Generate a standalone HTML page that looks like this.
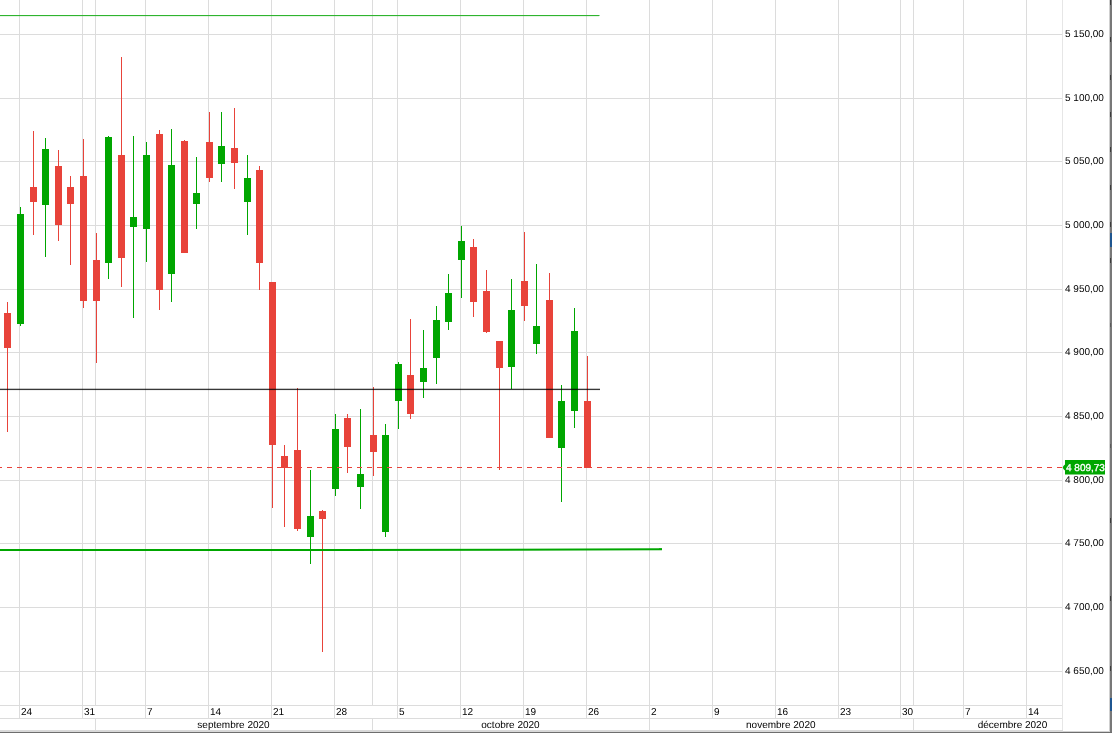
<!DOCTYPE html><html><head><meta charset="utf-8"><title>Chart</title><style>html,body{margin:0;padding:0;background:#fff;overflow:hidden}svg{display:block;will-change:transform}text{font-family:"Liberation Sans",Arial,sans-serif;font-size:10px;fill:#000;text-rendering:geometricPrecision}</style></head><body>
<svg width="1112" height="733" viewBox="0 0 1112 733">
<rect x="0" y="0" width="1112" height="733" fill="#fff"/>
<g fill="#dcdcdc" shape-rendering="crispEdges"><rect x="0" y="34" width="1062" height="1"/><rect x="0" y="98" width="1062" height="1"/><rect x="0" y="161" width="1062" height="1"/><rect x="0" y="225" width="1062" height="1"/><rect x="0" y="289" width="1062" height="1"/><rect x="0" y="352" width="1062" height="1"/><rect x="0" y="416" width="1062" height="1"/><rect x="0" y="480" width="1062" height="1"/><rect x="0" y="543" width="1062" height="1"/><rect x="0" y="607" width="1062" height="1"/><rect x="0" y="671" width="1062" height="1"/><rect x="19" y="0" width="1" height="718"/><rect x="82" y="0" width="1" height="718"/><rect x="145" y="0" width="1" height="718"/><rect x="208" y="0" width="1" height="718"/><rect x="271" y="0" width="1" height="718"/><rect x="334" y="0" width="1" height="718"/><rect x="397" y="0" width="1" height="718"/><rect x="460" y="0" width="1" height="718"/><rect x="523" y="0" width="1" height="718"/><rect x="586" y="0" width="1" height="718"/><rect x="649" y="0" width="1" height="718"/><rect x="712" y="0" width="1" height="718"/><rect x="775" y="0" width="1" height="718"/><rect x="838" y="0" width="1" height="718"/><rect x="900" y="0" width="1" height="718"/><rect x="963" y="0" width="1" height="718"/><rect x="1026" y="0" width="1" height="718"/><rect x="95" y="0" width="1" height="705"/><rect x="95" y="718" width="1" height="12"/><rect x="372" y="0" width="1" height="705"/><rect x="372" y="718" width="1" height="12"/><rect x="649" y="0" width="1" height="705"/><rect x="649" y="718" width="1" height="12"/><rect x="913" y="0" width="1" height="705"/><rect x="913" y="718" width="1" height="12"/><rect x="0" y="705" width="1062" height="1"/><rect x="0" y="718" width="1062" height="1"/></g>
<rect x="1062" y="0" width="1" height="730" fill="#e6e6e6"/>
<g shape-rendering="crispEdges"><rect x="7" y="302" width="1" height="130" fill="#e8433a"/><rect x="4" y="313" width="7" height="35" fill="#e8433a"/><rect x="20" y="207" width="1" height="119" fill="#00a600"/><rect x="17" y="214" width="7" height="110" fill="#00a600"/><rect x="33" y="131" width="1" height="104" fill="#e8433a"/><rect x="30" y="187" width="7" height="15" fill="#e8433a"/><rect x="45" y="138" width="1" height="119" fill="#00a600"/><rect x="42" y="149" width="7" height="56" fill="#00a600"/><rect x="58" y="150" width="1" height="91" fill="#e8433a"/><rect x="55" y="166" width="7" height="59" fill="#e8433a"/><rect x="70" y="176" width="1" height="89" fill="#e8433a"/><rect x="67" y="187" width="7" height="17" fill="#e8433a"/><rect x="83" y="139" width="1" height="169" fill="#e8433a"/><rect x="80" y="176" width="7" height="125" fill="#e8433a"/><rect x="96" y="233" width="1" height="130" fill="#e8433a"/><rect x="93" y="260" width="7" height="41" fill="#e8433a"/><rect x="108" y="136" width="1" height="143" fill="#00a600"/><rect x="105" y="137" width="7" height="126" fill="#00a600"/><rect x="121" y="57" width="1" height="230" fill="#e8433a"/><rect x="118" y="155" width="7" height="103" fill="#e8433a"/><rect x="133" y="136" width="1" height="182" fill="#00a600"/><rect x="130" y="217" width="7" height="10" fill="#00a600"/><rect x="146" y="142" width="1" height="120" fill="#00a600"/><rect x="143" y="155" width="7" height="74" fill="#00a600"/><rect x="159" y="130" width="1" height="180" fill="#e8433a"/><rect x="156" y="134" width="7" height="156" fill="#e8433a"/><rect x="171" y="129" width="1" height="173" fill="#00a600"/><rect x="168" y="165" width="7" height="109" fill="#00a600"/><rect x="184" y="140" width="1" height="113" fill="#e8433a"/><rect x="181" y="141" width="7" height="112" fill="#e8433a"/><rect x="196" y="157" width="1" height="72" fill="#00a600"/><rect x="193" y="193" width="7" height="11" fill="#00a600"/><rect x="209" y="112" width="1" height="70" fill="#e8433a"/><rect x="206" y="142" width="7" height="36" fill="#e8433a"/><rect x="221" y="112" width="1" height="70" fill="#00a600"/><rect x="218" y="146" width="7" height="18" fill="#00a600"/><rect x="234" y="108" width="1" height="81" fill="#e8433a"/><rect x="231" y="148" width="7" height="15" fill="#e8433a"/><rect x="247" y="155" width="1" height="80" fill="#00a600"/><rect x="244" y="178" width="7" height="24" fill="#00a600"/><rect x="259" y="166" width="1" height="124" fill="#e8433a"/><rect x="256" y="170" width="7" height="93" fill="#e8433a"/><rect x="272" y="282" width="1" height="226" fill="#e8433a"/><rect x="269" y="282" width="7" height="163" fill="#e8433a"/><rect x="284" y="445" width="1" height="82" fill="#e8433a"/><rect x="281" y="456" width="7" height="12" fill="#e8433a"/><rect x="297" y="388" width="1" height="143" fill="#e8433a"/><rect x="294" y="450" width="7" height="79" fill="#e8433a"/><rect x="310" y="470" width="1" height="94" fill="#00a600"/><rect x="307" y="516" width="7" height="21" fill="#00a600"/><rect x="322" y="510" width="1" height="142" fill="#e8433a"/><rect x="319" y="511" width="7" height="8" fill="#e8433a"/><rect x="335" y="414" width="1" height="82" fill="#00a600"/><rect x="332" y="429" width="7" height="60" fill="#00a600"/><rect x="347" y="414" width="1" height="59" fill="#e8433a"/><rect x="344" y="418" width="7" height="29" fill="#e8433a"/><rect x="360" y="409" width="1" height="100" fill="#00a600"/><rect x="357" y="474" width="7" height="13" fill="#00a600"/><rect x="373" y="387" width="1" height="89" fill="#e8433a"/><rect x="370" y="435" width="7" height="17" fill="#e8433a"/><rect x="385" y="424" width="1" height="113" fill="#00a600"/><rect x="382" y="435" width="7" height="97" fill="#00a600"/><rect x="398" y="362" width="1" height="67" fill="#00a600"/><rect x="395" y="364" width="7" height="37" fill="#00a600"/><rect x="410" y="319" width="1" height="100" fill="#e8433a"/><rect x="407" y="375" width="7" height="39" fill="#e8433a"/><rect x="423" y="330" width="1" height="68" fill="#00a600"/><rect x="420" y="368" width="7" height="14" fill="#00a600"/><rect x="436" y="306" width="1" height="78" fill="#00a600"/><rect x="433" y="320" width="7" height="38" fill="#00a600"/><rect x="448" y="274" width="1" height="56" fill="#00a600"/><rect x="445" y="293" width="7" height="29" fill="#00a600"/><rect x="461" y="226" width="1" height="72" fill="#00a600"/><rect x="458" y="241" width="7" height="19" fill="#00a600"/><rect x="473" y="239" width="1" height="78" fill="#e8433a"/><rect x="470" y="247" width="7" height="55" fill="#e8433a"/><rect x="486" y="270" width="1" height="63" fill="#e8433a"/><rect x="483" y="291" width="7" height="41" fill="#e8433a"/><rect x="499" y="341" width="1" height="129" fill="#e8433a"/><rect x="496" y="341" width="7" height="27" fill="#e8433a"/><rect x="511" y="279" width="1" height="110" fill="#00a600"/><rect x="508" y="310" width="7" height="57" fill="#00a600"/><rect x="524" y="232" width="1" height="89" fill="#e8433a"/><rect x="521" y="281" width="7" height="25" fill="#e8433a"/><rect x="536" y="264" width="1" height="90" fill="#00a600"/><rect x="533" y="326" width="7" height="18" fill="#00a600"/><rect x="549" y="273" width="1" height="165" fill="#e8433a"/><rect x="546" y="300" width="7" height="138" fill="#e8433a"/><rect x="561" y="385" width="1" height="117" fill="#00a600"/><rect x="558" y="401" width="7" height="47" fill="#00a600"/><rect x="574" y="308" width="1" height="120" fill="#00a600"/><rect x="571" y="331" width="7" height="80" fill="#00a600"/><rect x="587" y="356" width="1" height="112" fill="#e8433a"/><rect x="584" y="401" width="7" height="67" fill="#e8433a"/></g>
<g shape-rendering="crispEdges"><rect x="0" y="15" width="599" height="1" fill="#2fb42f"/><rect x="0" y="16" width="599" height="1" fill="#2fb42f" opacity="0.12"/><rect x="599" y="15" width="1" height="1" fill="#2fb42f" opacity="0.5"/></g>
<g shape-rendering="crispEdges"><rect x="0" y="389" width="600" height="1" fill="#000" opacity="0.78"/><rect x="0" y="388" width="600" height="1" fill="#000" opacity="0.22"/><rect x="0" y="390" width="600" height="1" fill="#000" opacity="0.06"/></g>
<polyline points="0,550 340,550 662,549.35" fill="none" stroke="#00a600" stroke-width="2"/>
<rect x="659" y="548.2" width="3" height="1" fill="#00a600" opacity="0.8"/>
<line x1="0" y1="467.5" x2="1062" y2="467.5" stroke="#e8433a" stroke-width="1" stroke-dasharray="5,5" stroke-dashoffset="3" shape-rendering="crispEdges"/>
<g><text x="1065" y="37">5 150,00</text><text x="1065" y="101">5 100,00</text><text x="1065" y="164">5 050,00</text><text x="1065" y="228">5 000,00</text><text x="1065" y="292">4 950,00</text><text x="1065" y="355">4 900,00</text><text x="1065" y="419">4 850,00</text><text x="1065" y="483">4 800,00</text><text x="1065" y="546">4 750,00</text><text x="1065" y="610">4 700,00</text><text x="1065" y="674">4 650,00</text><text x="21" y="715">24</text><text x="84" y="715">31</text><text x="147" y="715">7</text><text x="210" y="715">14</text><text x="273" y="715">21</text><text x="336" y="715">28</text><text x="399" y="715">5</text><text x="462" y="715">12</text><text x="525" y="715">19</text><text x="588" y="715">26</text><text x="651" y="715">2</text><text x="714" y="715">9</text><text x="777" y="715">16</text><text x="840" y="715">23</text><text x="902" y="715">30</text><text x="965" y="715">7</text><text x="1028" y="715">14</text><text x="233.5" y="727.7" text-anchor="middle">septembre 2020</text><text x="510.5" y="727.7" text-anchor="middle">octobre 2020</text><text x="780.8" y="727.7" text-anchor="middle">novembre 2020</text><text x="1012.5" y="727.7" text-anchor="middle">décembre 2020</text></g>
<path d="M1062.7 467.5 L1063.6 465.8 L1065 464.4 L1065 460 L1105 460 L1105 474.6 L1065 474.6 L1065 470.6 L1063.6 469.2 Z" fill="#00a600"/>
<text x="1066" y="471.3" style="fill:#fff;stroke:#fff;stroke-width:0.3px">4 809,73</text>
<rect x="1109" y="0" width="1" height="733" fill="#cfcfcf"/>
<rect x="1110" y="0" width="2" height="733" fill="#787878"/>
<rect x="0" y="730" width="1063" height="2" fill="#d9d9d9"/>
<rect x="1063" y="731" width="47" height="1" fill="#d2d2d2"/>
<rect x="0" y="732" width="1112" height="1" fill="#6e6e6e"/>
<g fill="#3c3c3c"><rect x="1110" y="0" width="1" height="5"/><rect x="1110" y="37" width="1" height="5"/><rect x="1110" y="75" width="1" height="5"/><rect x="1110" y="112" width="1" height="5"/><rect x="1110" y="147" width="1" height="5"/><rect x="1110" y="185" width="1" height="5"/><rect x="1110" y="222" width="1" height="5"/><rect x="1110" y="258" width="1" height="5"/><rect x="1110" y="518" width="1" height="5"/><rect x="1110" y="596" width="1" height="5"/><rect x="1110" y="666" width="1" height="5"/></g>
<g fill="#5a5a5a"><rect x="1110" y="323" width="1" height="4"/><rect x="1110" y="444" width="1" height="4"/></g>
<rect x="1110" y="233" width="2" height="14" fill="#1f5690"/>
<rect x="1110" y="698" width="2" height="13" fill="#1f5690"/>
</svg></body></html>
